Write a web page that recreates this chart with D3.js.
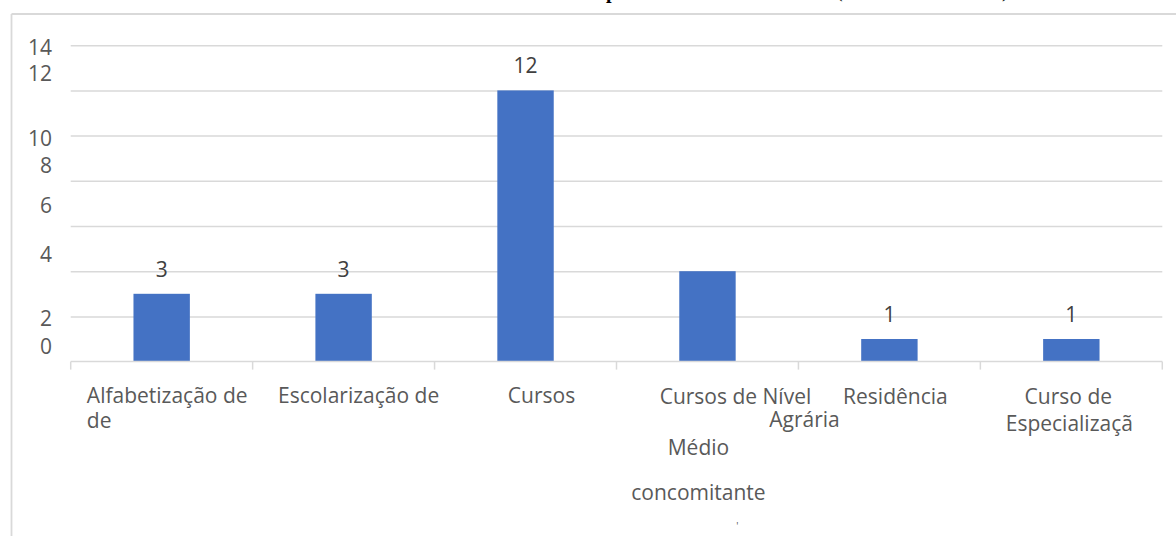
<!DOCTYPE html>
<html>
<head>
<meta charset="utf-8">
<script src="https://cdn.jsdelivr.net/npm/d3@7"></script>
<style>
  html, body { margin: 0; padding: 0; background: #ffffff; }
  svg { display: block; }
</style>
</head>
<body>
<svg id="chart" width="1176" height="536"></svg>
<script>
// ---- data ----
const categories = [
  "Alfabetização de de",
  "Escolarização de",
  "Cursos",
  "Cursos de Nível Agrária Médio concomitante",
  "Residência",
  "Curso de Especializaçã"
];
const labelLines = [
  ["Alfabetização de", "de"],
  ["Escolarização de"],
  ["Cursos"],
  ["Cursos de Nível", "Agrária", "Médio", "concomitante"],
  ["Residência"],
  ["Curso de", "Especializaçã"]
];
const values = [3, 3, 12, 4, 1, 1];
const dataLabels = ["3", "3", "12", "", "1", "1"];
const yTicks = [0, 2, 4, 6, 8, 10, 12, 14];
const yTickLabels = ["0", "2", "4", "6", "8", "10", "12", "14"];

// ---- layout ----
const W = 1176, H = 536;
const plotLeft = 70.7, plotRight = 1162.3, plotTop = 45.2, plotBottom = 361.6;
const svg = d3.select("#chart");
const FONT = "'Open Sans', 'Noto Sans', sans-serif";
const FS = 21;
const grid = "#d9d9d9";

// outer frame (top & left edges visible)
svg.append("line").attr("x1", 11.5).attr("x2", W).attr("y1", 14).attr("y2", 14)
  .attr("stroke", grid).attr("stroke-width", 1.8);
svg.append("line").attr("x1", 11.5).attr("x2", 11.5).attr("y1", 14).attr("y2", H)
  .attr("stroke", grid).attr("stroke-width", 1.8);

// clipped title remnants at very top (the source title is cut off by the page edge)
const titleFrag = svg.append("g").attr("font-family", "'Liberation Serif', serif").attr("font-size", 20).attr("fill", "#000");
titleFrag.append("text").attr("x", 606).attr("y", -2.5).attr("font-weight", "bold").text("p");
titleFrag.append("text").attr("x", 836).attr("y", -3.5).text("(");
titleFrag.append("text").attr("x", 1002).attr("y", -3.5).text(")");

const x = d3.scaleBand().domain(categories).range([plotLeft, plotRight]).paddingInner(0).paddingOuter(0);
const y = d3.scaleLinear().domain([0, 14]).range([plotBottom, plotTop]);

// gridlines
svg.append("g").attr("class", "grid")
  .attr("transform", `translate(${plotLeft},0)`)
  .call(d3.axisLeft(y).tickValues(yTicks.filter(v => v > 0)).tickSize(-(plotRight - plotLeft)).tickFormat(""))
  .call(g => g.select(".domain").remove())
  .call(g => g.selectAll("line").attr("stroke", grid).attr("stroke-width", 1.5));

// y tick labels (placed as in the source image, slightly displaced)
const yLabelNudge = [-16, 2, -17, -21, -16, 2, -17, 2];
const yAxis = svg.append("g").attr("transform", `translate(52,0)`)
  .call(d3.axisLeft(y).tickValues(yTicks).tickSize(0).tickPadding(0)
    .tickFormat((d, i) => yTickLabels[i]));
yAxis.select(".domain").remove();
yAxis.selectAll("text")
  .attr("font-family", FONT).attr("font-size", FS).attr("fill", "#595959")
  .attr("dy", (d, i) => (yLabelNudge[i] + 7.5) + "px");

// bars
const barW = x.bandwidth() * 0.31;
svg.append("g").selectAll("rect").data(values).join("rect")
  .attr("x", (d, i) => x(categories[i]) + x.bandwidth() / 2 - barW / 2)
  .attr("y", d => y(d))
  .attr("width", barW)
  .attr("height", d => y(0) - y(d))
  .attr("fill", "#4472c4");

// x axis line + boundary ticks
const xAxis = svg.append("g").attr("transform", `translate(0,${plotBottom})`);
xAxis.append("line").attr("x1", plotLeft).attr("x2", plotRight).attr("y1", 0).attr("y2", 0)
  .attr("stroke", grid).attr("stroke-width", 1.5);
const bounds = categories.map(c => x(c)).concat([x.range()[1]]);
xAxis.selectAll("line.tick").data(bounds).join("line").attr("class", "tick")
  .attr("x1", d => d).attr("x2", d => d).attr("y1", 0).attr("y2", 8)
  .attr("stroke", grid).attr("stroke-width", 1.5);

// data labels
svg.append("g").selectAll("text").data(values).join("text")
  .attr("x", (d, i) => x(categories[i]) + x.bandwidth() / 2)
  .attr("y", d => y(d) - 17)
  .attr("text-anchor", "middle")
  .attr("font-family", FONT).attr("font-size", FS).attr("fill", "#404040")
  .text((d, i) => dataLabels[i]);

// category labels (line placement mimics the source)
// [dx relative to band centre, baseline y, anchor]
const lineLayout = [
  [[-74.8, 403, "start"], [-74.8, 428, "start"]],
  [[15, 403, "middle"]],
  [[16, 403, "middle"]],
  [[28, 404, "middle"], [97, 427, "middle"], [-9, 455, "middle"], [-9, 500, "middle"]],
  [[6, 404, "middle"]],
  [[-3, 404, "middle"], [-2, 431, "middle"]]
];
const catG = svg.append("g").attr("font-family", FONT).attr("font-size", FS).attr("fill", "#595959");
labelLines.forEach((lines, i) => {
  const cx = x(categories[i]) + x.bandwidth() / 2;
  lines.forEach((t, j) => {
    const [dx, yy, anchor] = lineLayout[i][j];
    catG.append("text").attr("x", cx + dx).attr("y", yy)
      .attr("text-anchor", anchor).text(t);
  });
});
// small stray mark below the fourth label
catG.append("text").attr("x", x(categories[3]) + x.bandwidth() / 2 + 30).attr("y", 530)
  .attr("font-size", 10).attr("text-anchor", "middle").text("'");
</script>
</body>
</html>
